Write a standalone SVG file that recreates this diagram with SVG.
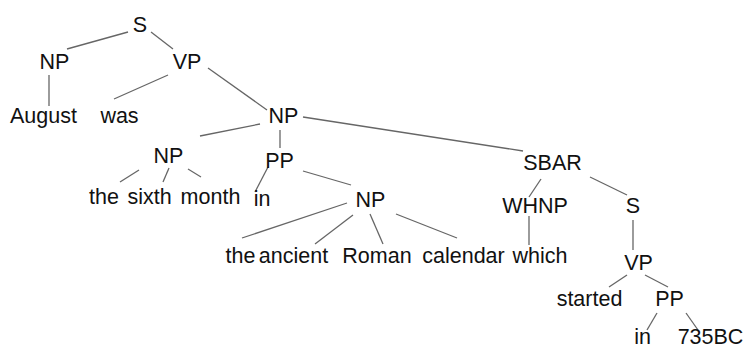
<svg xmlns="http://www.w3.org/2000/svg" width="745" height="349" viewBox="0 0 745 349">
  <style>
    .lbl { font-family: "Liberation Sans", Arial, sans-serif; font-size: 21.5px; fill: #111; text-anchor: middle; }
    .edges line { stroke: #666; stroke-width: 1.3; }
  </style>
  <rect width="745" height="349" fill="#fff"/>
  <g class="edges" id="connectors">
    <line x1="128" y1="32" x2="67" y2="49"/>
    <line x1="151" y1="32" x2="173" y2="49"/>
    <line x1="49" y1="75" x2="49" y2="106"/>
    <line x1="168" y1="75" x2="114" y2="99"/>
    <line x1="208" y1="68" x2="267" y2="110"/>
    <line x1="260" y1="124" x2="200" y2="136"/>
    <line x1="280" y1="130" x2="280" y2="148"/>
    <line x1="303" y1="117" x2="523" y2="151"/>
    <line x1="139" y1="170" x2="120" y2="182"/>
    <line x1="169" y1="168" x2="163" y2="182"/>
    <line x1="188" y1="169" x2="201" y2="177"/>
    <line x1="268" y1="167" x2="255" y2="192"/>
    <line x1="303" y1="171" x2="351" y2="185"/>
    <line x1="347" y1="203" x2="242" y2="238"/>
    <line x1="353" y1="215" x2="315" y2="244"/>
    <line x1="370" y1="214" x2="383" y2="244"/>
    <line x1="396" y1="214" x2="457" y2="238"/>
    <line x1="541" y1="179" x2="529" y2="197"/>
    <line x1="590" y1="177" x2="627" y2="195"/>
    <line x1="529" y1="216" x2="529" y2="245"/>
    <line x1="633" y1="220" x2="633" y2="250"/>
    <line x1="627" y1="275" x2="609" y2="287"/>
    <line x1="645" y1="275" x2="668" y2="287"/>
    <line x1="657" y1="313" x2="647" y2="330"/>
    <line x1="686" y1="313" x2="698" y2="330"/>
  </g>
  <g id="n-S"><text class="lbl" x="140" y="32">S</text></g>
  <g id="n-NP1"><text class="lbl" x="54.5" y="69">NP</text></g>
  <g id="n-VP1"><text class="lbl" x="187" y="69">VP</text></g>
  <g id="n-August"><text class="lbl" x="43.5" y="123">August</text></g>
  <g id="n-was"><text class="lbl" x="119.5" y="123">was</text></g>
  <g id="n-NP2"><text class="lbl" x="283.5" y="123">NP</text></g>
  <g id="n-NP3"><text class="lbl" x="168.5" y="163">NP</text></g>
  <g id="n-PP1"><text class="lbl" x="279.5" y="168">PP</text></g>
  <g id="n-the1"><text class="lbl" x="104" y="204">the</text></g>
  <g id="n-sixth"><text class="lbl" x="149.5" y="204">sixth</text></g>
  <g id="n-month"><text class="lbl" x="210.5" y="204">month</text></g>
  <g id="n-in1"><text class="lbl" x="262" y="206">in</text></g>
  <g id="n-NP4"><text class="lbl" x="370.5" y="207">NP</text></g>
  <g id="n-the2"><text class="lbl" x="240.5" y="263">the</text></g>
  <g id="n-ancient"><text class="lbl" x="293.5" y="263">ancient</text></g>
  <g id="n-Roman"><text class="lbl" x="377" y="263">Roman</text></g>
  <g id="n-calendar"><text class="lbl" x="463.5" y="263">calendar</text></g>
  <g id="n-which"><text class="lbl" x="540" y="263">which</text></g>
  <g id="n-SBAR"><text class="lbl" x="552.5" y="170">SBAR</text></g>
  <g id="n-WHNP"><text class="lbl" x="535" y="213">WHNP</text></g>
  <g id="n-S2"><text class="lbl" x="633" y="213">S</text></g>
  <g id="n-VP2"><text class="lbl" x="638.5" y="270">VP</text></g>
  <g id="n-started"><text class="lbl" x="589.5" y="306">started</text></g>
  <g id="n-PP2"><text class="lbl" x="669.5" y="306">PP</text></g>
  <g id="n-in2"><text class="lbl" x="642.5" y="344">in</text></g>
  <g id="n-735BC"><text class="lbl" x="710.5" y="344">735BC</text></g>
</svg>
